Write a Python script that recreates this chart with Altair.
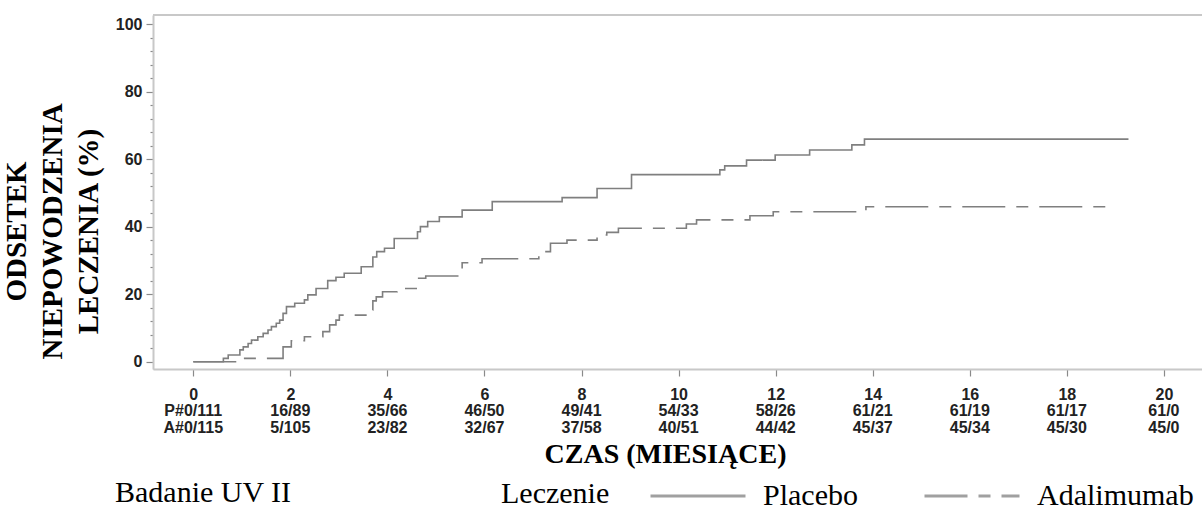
import altair as alt
import pandas as pd

# Kaplan-Meier step curves: time in months, cumulative treatment failure (%)
placebo_months = [0.00, 0.62, 0.72, 0.96, 1.03, 1.13, 1.20, 1.33, 1.44, 1.54, 1.61, 1.71,
                  1.78, 1.85, 1.92, 2.09, 2.29, 2.36, 2.53, 2.77, 2.94, 3.11, 3.46, 3.70,
                  3.78, 3.94, 4.14, 4.62, 4.68, 4.83, 5.07, 5.54, 6.16, 7.60, 8.32, 9.03,
                  10.85, 10.95, 11.40, 11.99, 12.70, 13.57, 13.83, 19.27]
placebo_pct = [0.0, 1.0, 2.0, 3.5, 4.4, 5.4, 6.4, 7.4, 8.4, 9.4, 10.4, 11.4,
               12.3, 14.3, 16.3, 17.3, 18.3, 19.8, 21.7, 24.0, 25.0, 26.2, 28.1, 31.0,
               32.6, 33.6, 36.5, 38.5, 40.0, 41.5, 42.9, 44.9, 47.4, 48.6, 51.3, 55.4,
               56.8, 58.0, 59.7, 61.2, 62.7, 64.2, 65.9, 65.9]

ada_months = [0.00, 0.96, 1.85, 2.02, 2.29, 2.67, 2.81, 2.94, 3.01, 3.63, 3.70, 3.77,
              3.90, 4.20, 4.62, 4.79, 5.54, 5.95, 7.12, 7.36, 7.70, 8.32, 8.52, 8.76,
              10.16, 10.37, 11.47, 11.95, 13.86, 18.90]
ada_pct = [0.0, 1.0, 4.4, 6.2, 7.4, 8.9, 10.9, 12.3, 13.8, 15.3, 18.0, 19.2,
           20.7, 21.7, 24.7, 25.4, 29.3, 30.5, 32.6, 35.1, 36.0, 37.5, 38.3, 39.5,
           40.8, 42.0, 43.2, 44.4, 45.9, 45.9]

# Number-at-risk table under the x axis
table_months = [0, 2, 4, 6, 8, 10, 12, 14, 16, 18, 20]
placebo_row = ["P#0/111", "16/89", "35/66", "46/50", "49/41", "54/33",
               "58/26", "61/21", "61/19", "61/17", "61/0"]
ada_row = ["A#0/115", "5/105", "23/82", "32/67", "37/58", "40/51",
           "44/42", "45/37", "45/34", "45/30", "45/0"]

series_names = ["Placebo", "Adalimumab"]

W, H = 1049, 354
GRAY = "#7f7f7f"
FRAME = "#c8c8c8"
SANS = "Liberation Sans"
SERIF = "Liberation Serif"
X_TITLE = "CZAS (MIESIĄCE)"

curves = pd.concat([
    pd.DataFrame({"month": placebo_months, "pct": placebo_pct, "leczenie": series_names[0]}),
    pd.DataFrame({"month": ada_months, "pct": ada_pct, "leczenie": series_names[1]}),
])

risk = pd.DataFrame({"month": table_months, "p": placebo_row, "a": ada_row})

x_scale = alt.Scale(domain=[-0.83, 20.785], nice=False, zero=False)
y_scale = alt.Scale(domain=[-2.16, 102.67], nice=False, zero=False)

lines = alt.Chart(curves).mark_line(interpolate="step-after", color=GRAY, strokeWidth=1.6).encode(
    x=alt.X("month:Q", scale=x_scale,
            axis=alt.Axis(values=table_months, title=X_TITLE, grid=False,
                          tickSize=7, tickColor="#8a8a8a", tickWidth=1.2,
                          domainColor=FRAME, domainWidth=2,
                          labelFont=SANS, labelFontWeight="bold", labelFontSize=16,
                          labelColor="#222222", labelPadding=10,
                          titleFont=SERIF, titleFontWeight="bold", titleFontSize=28,
                          titleColor="#000000", titleBaseline="middle",
                          titleX=512, titleY=85)),
    y=alt.Y("pct:Q", scale=y_scale,
            axis=alt.Axis(values=list(range(0, 101, 4)),
                          labelExpr="datum.value % 20 === 0 ? datum.label : ''",
                          tickSize={"condition": {"test": "datum.value % 20 === 0", "value": 7}, "value": 3},
                          tickColor="#8a8a8a", tickWidth=1.2, grid=False,
                          domainColor=FRAME, domainWidth=2,
                          labelFont=SANS, labelFontWeight="bold", labelFontSize=16,
                          labelColor="#222222", labelPadding=4,
                          title=["ODSETEK", "NIEPOWODZENIA", "LECZENIA (%)"],
                          titleFont=SERIF, titleFontWeight="bold", titleFontSize=29,
                          titleColor="#000000", titleAngle=270, titleAlign="center",
                          titleBaseline="middle", titleLineHeight=36,
                          titleX=-137, titleY=216)),
    strokeDash=alt.StrokeDash(
        "leczenie:N",
        scale=alt.Scale(domain=series_names, range=[[1, 0], [43, 11, 12, 11]]),
        legend=alt.Legend(title="Leczenie", orient="none", legendX=348, legendY=432,
                          direction="horizontal", titleOrient="left",
                          titleAnchor="middle", titleBaseline="top",
                          titleFont=SERIF, titleFontWeight="normal", titleFontSize=30,
                          titleColor="#000000", titlePadding=39,
                          labelFont=SERIF, labelFontSize=30, labelColor="#000000",
                          labelOffset=16, symbolType="stroke", symbolSize=9025,
                          symbolStrokeWidth=3, symbolStrokeColor="#a0a0a0",
                          columnPadding=60)),
)

top_border = alt.Chart(pd.DataFrame({"k": [0]})).mark_rule(color=FRAME, strokeWidth=2).encode(
    x=alt.value(0), x2=alt.value(W), y=alt.value(0)
)

text_style = dict(font=SANS, fontWeight="bold", fontSize=16, color="#222222",
                  align="center", baseline="middle")

row_p = alt.Chart(risk).mark_text(**text_style).encode(
    x=alt.X("month:Q", scale=x_scale, title=X_TITLE), y=alt.value(H + 42), text="p:N"
)
row_a = alt.Chart(risk).mark_text(**text_style).encode(
    x=alt.X("month:Q", scale=x_scale, title=X_TITLE), y=alt.value(H + 59), text="a:N"
)

study = alt.Chart(pd.DataFrame({"t": ["Badanie UV II"]})).mark_text(
    font=SERIF, fontSize=30, color="#000000", align="left", baseline="middle"
).encode(x=alt.value(-38), y=alt.value(H + 124), text="t:N")

chart = alt.layer(lines, top_border, row_p, row_a, study).properties(
    width=W, height=H,
    autosize=alt.AutoSizeParams(type="none"),
    padding={"left": 153, "top": 15, "right": 0, "bottom": 145},
).configure_view(strokeWidth=0).configure(background="white")

chart.save("out.html", embed_options={"renderer": "svg", "actions": False})
